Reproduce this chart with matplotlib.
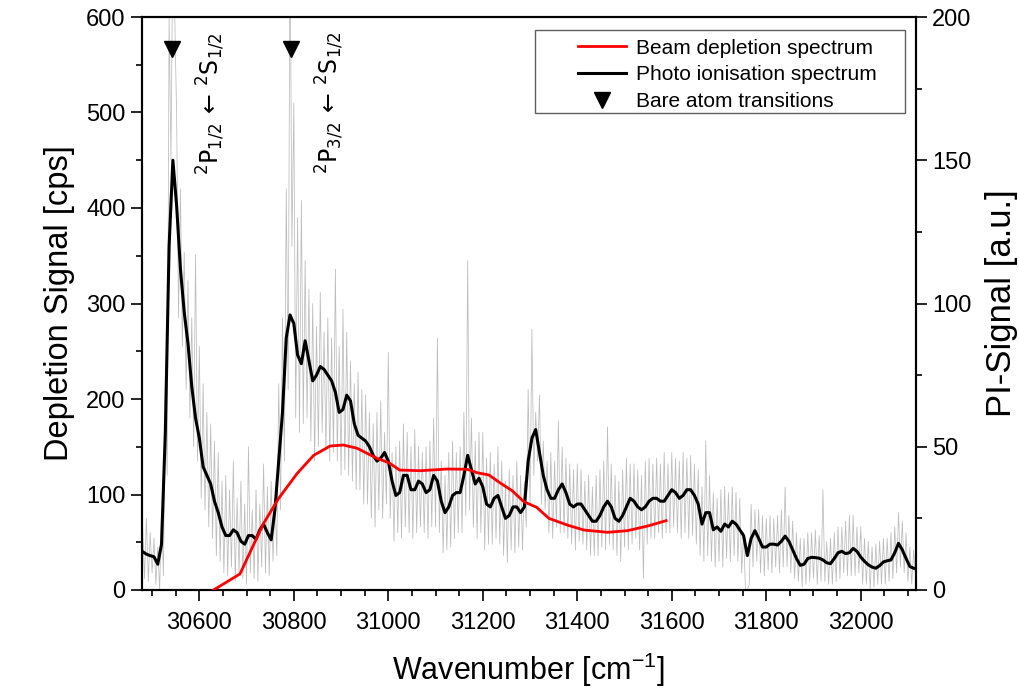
import numpy as np
import matplotlib
matplotlib.use("Agg")
import matplotlib.pyplot as plt
from matplotlib.lines import Line2D
from matplotlib.patches import Rectangle
from matplotlib.ticker import MultipleLocator

plt.rcParams['font.family'] = ['Liberation Sans', 'DejaVu Sans']
plt.rcParams['mathtext.fontset'] = 'custom'
plt.rcParams['mathtext.rm'] = 'Liberation Sans'
plt.rcParams['mathtext.it'] = 'Liberation Sans:italic'

# ---------------- data ----------------
# smoothed photo-ionisation spectrum (PI-Signal, a.u.), 8 cm^-1 grid
pi_x = list(range(30480, 32113, 8))
pi_smooth = [
    13.4, 12.5, 12, 11.6, 9, 16, 55, 120, 150, 134,
    112, 97, 86, 71, 60, 53, 43, 40, 37, 31,
    27, 22, 19, 19, 21, 20, 17, 16, 19, 19,
    17.7, 21, 23, 20, 17.5, 28, 45, 62, 88, 96,
    93, 82, 79, 87, 80, 73, 75, 78, 77, 75,
    73, 69, 62, 63, 68, 66, 58, 54, 53, 52,
    50, 47, 45, 46, 48, 45, 38, 33, 34, 40,
    40, 35, 35, 38, 37, 34, 35, 40, 38, 31,
    27, 29, 33, 34, 34, 40, 47, 42, 37, 39,
    36, 30, 29, 32, 33, 29, 25, 26, 29, 29,
    27, 29, 45, 53, 56, 48, 40, 35, 32, 32,
    35, 37, 34, 30, 29, 30, 30, 28, 26, 24,
    24, 26, 29, 31, 29, 25, 24, 26, 29, 32,
    31, 29, 28, 29, 31, 32, 32, 31, 31, 33,
    35, 34, 32, 33, 35, 35, 33, 30, 23, 27,
    27, 21, 22, 20.5, 23, 22, 24, 23, 21, 19,
    12, 18, 20.7, 18, 15, 15, 16, 16, 15.7, 17,
    18.8, 17, 14, 11, 8.6, 9, 11, 11.4, 11.3, 11.1,
    10.5, 9.5, 9.2, 11, 13, 13.5, 12.7, 13, 14.5, 13.5,
    11.5, 10, 8.8, 8, 7.6, 8.5, 9.8, 10.2, 10.5, 13,
    16.3, 14, 11, 8.2, 7.6,
]

# raw photo-ionisation spectrum (PI-Signal, a.u.), 4 cm^-1 grid
raw_x = list(range(30480, 32117, 4))
pi_raw = [
    22, 4, 25, 3, 20, 6, 18, 2, 15, 0, 28, 5, 70, 40, 200, 150, 230, 200, 165, 95,
    140, 85, 118, 70, 108, 60, 95, 50, 117, 45, 85, 32, 72, 28, 62, 22, 58, 18, 52, 12,
    48, 10, 38, 6, 40, 5, 35, 8, 45, 3, 32, 6, 38, 4, 30, 2, 50, 6, 28, 4,
    35, 3, 30, 8, 44, 6, 36, 5, 38, 10, 32, 12, 72, 28, 95, 45, 140, 70, 230, 120,
    170, 60, 130, 55, 136, 58, 115, 60, 105, 52, 100, 45, 92, 50, 104, 55, 90, 48, 95, 45,
    88, 48, 112, 45, 85, 40, 98, 42, 90, 40, 80, 38, 72, 35, 76, 35, 70, 30, 68, 30,
    62, 25, 58, 22, 62, 28, 66, 25, 55, 30, 83, 25, 48, 17, 50, 20, 52, 18, 58, 22,
    55, 20, 50, 18, 56, 20, 50, 22, 48, 20, 50, 18, 52, 22, 60, 22, 88, 20, 45, 13,
    40, 14, 48, 15, 52, 18, 48, 20, 50, 20, 62, 26, 115, 28, 60, 22, 52, 18, 55, 20,
    55, 14, 46, 16, 48, 16, 44, 18, 50, 16, 45, 12, 38, 9.5, 42, 14, 40, 13, 45, 15,
    40, 14, 38, 22, 70, 30, 91, 40, 62, 45, 68, 30, 52, 28, 45, 20, 48, 18, 45, 22,
    59, 20, 50, 20, 46, 18, 44, 16, 42, 14, 44, 17, 42, 16, 38, 14, 40, 12, 36, 12,
    40, 12, 42, 15, 45, 14, 57, 16, 44, 14, 40, 12, 38, 10, 42, 15, 46, 14, 44, 16,
    44, 18, 42, 14, 40, 4, 45, 16, 46, 18, 44, 18, 46, 20, 44, 18, 48, 20, 44, 20,
    48, 22, 46, 20, 45, 18, 48, 20, 46, 18, 47, 19, 44, 16, 42, 12, 36, 10, 52, 12,
    40, 10, 34, 8, 32, 10, 35, 8, 36, 11, 34, 10, 36, 12, 34, 10, 32, 6, 20, 0,
    0, 2, 30, 8, 28, 10, 28, 6, 26, 5, 25, 7, 26, 6, 25, 8, 26, 6, 28, 8,
    36, 8, 26, 6, 24, 4, 20, 3, 18, 1, 18, 2, 20, 3, 20, 4, 21, 2, 19, 3,
    35, 3, 17, 2, 18, 2, 20, 3, 22, 4, 22, 6, 24, 5, 26, 5, 26, 5, 22, 6,
    22, 2, 18, 2, 17, 0, 15, 1, 16, 2, 17, 2, 18, 2, 18, 3, 20, 4, 22, 6,
    27, 8, 24, 6, 20, 3, 15, 2, 14, 4,
]

# beam depletion spectrum (Depletion Signal, cps)
dep_x = [30630, 30686, 30736, 30768, 30807, 30842, 30877, 30905, 30934, 30976,
         31001, 31024, 31068, 31125, 31167, 31188, 31213, 31238, 31262, 31287,
         31314, 31340, 31379, 31414, 31464, 31506, 31549, 31588]
dep_y = [0, 16.8, 69.8, 96, 122, 141, 150.8, 151.8, 148.4, 137.9,
         133.3, 125.6, 124.9, 126.7, 126.4, 122.8, 120.4, 111.7, 104, 92.4,
         86.6, 75, 68, 62.8, 60.4, 62.1, 67, 72.6]

# bare atom transitions (cm^-1) and marker height (PI units)
atom_x = [30543, 30793]
atom_y = [189, 189]
atom_labels = [r'$\mathrm{^2P_{1/2}}\,\leftarrow\,\mathrm{^2S_{1/2}}$',
               r'$\mathrm{^2P_{3/2}}\,\leftarrow\,\mathrm{^2S_{1/2}}$']
label_x = [30625, 30877]
label_y = [584, 585]

legend_labels = ['Beam depletion spectrum', 'Photo ionisation spectrum',
                 'Bare atom transitions']

# ---------------- figure ----------------
fig = plt.figure(figsize=(10.19, 6.93), dpi=100)
ax = fig.add_axes([141.7 / 1019, 1 - 590 / 693, (916 - 141.7) / 1019, 573 / 693])
ax2 = ax.twinx()

ax2.plot(raw_x, pi_raw, color='#bcbcbc', lw=0.55, zorder=1)
ax2.plot(pi_x, pi_smooth, color='black', lw=2.2, zorder=2)
ax2.plot(atom_x, atom_y, linestyle='none', marker='v', color='black',
         markersize=11, zorder=3, clip_on=False)

ax.plot(dep_x, dep_y, color='#ff0000', lw=2.0, zorder=3)
ax.set_zorder(ax2.get_zorder() + 1)
ax.patch.set_visible(False)

for lx, ly, lab in zip(label_x, label_y, atom_labels):
    ax.text(lx, ly, lab, rotation=90, ha='center', va='top', fontsize=17,
            math_fontfamily='dejavusans')

ax.set_xlim(30478, 32117)
ax.set_ylim(0, 600)
ax2.set_ylim(0, 200)

ax.xaxis.set_major_locator(MultipleLocator(200))
ax.xaxis.set_minor_locator(MultipleLocator(50))
ax.yaxis.set_major_locator(MultipleLocator(100))
ax.yaxis.set_minor_locator(MultipleLocator(50))
ax2.yaxis.set_major_locator(MultipleLocator(50))
ax2.yaxis.set_minor_locator(MultipleLocator(25))

for a in (ax, ax2):
    for s in a.spines.values():
        s.set_linewidth(1.5)
    a.tick_params(which='major', length=8, width=1.2, labelsize=17, direction='out')
    a.tick_params(which='minor', length=4.5, width=1.2, direction='out')
ax.tick_params(axis='x', which='both', top=False)
ax.tick_params(axis='y', which='both', right=False)
ax.tick_params(axis='x', pad=8)

ax.set_xlabel(r'Wavenumber [cm$^{\mathregular{-1}}$]', fontsize=22, labelpad=12)
ax.set_ylabel('Depletion Signal [cps]', fontsize=23.5, labelpad=8)
ax2.set_ylabel('PI-Signal [a.u.]', fontsize=25, rotation=90, labelpad=10)

# legend
frame = Rectangle((0.508, 0.832), 0.478, 0.145, transform=ax.transAxes,
                  facecolor='white', edgecolor='#606060', lw=1.0, zorder=5)
ax.add_patch(frame)
handles = [Line2D([], [], color='#ff0000', lw=2.0),
           Line2D([], [], color='black', lw=2.2),
           Line2D([], [], color='black', linestyle='none', marker='v', markersize=11)]
leg = ax.legend(handles, legend_labels, loc='upper left',
                bbox_to_anchor=(0.563, 0.962), frameon=False, fontsize=15,
                borderpad=0, borderaxespad=0, handlelength=2.3,
                handletextpad=0.5, labelspacing=0.37)
leg.set_zorder(6)

fig.savefig('out.png', dpi=100)
